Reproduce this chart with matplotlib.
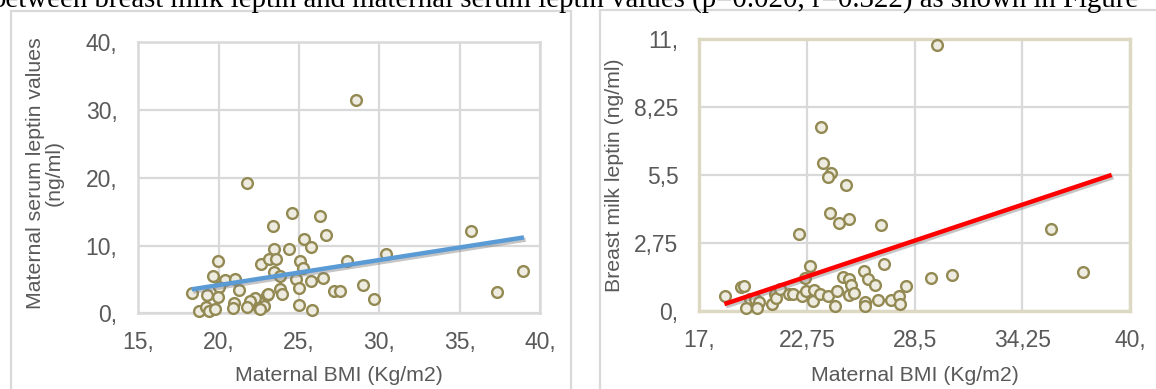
import numpy as np
import matplotlib
matplotlib.use("Agg")
import matplotlib.pyplot as plt
import matplotlib.patheffects as pe
from matplotlib.patches import Rectangle

# ---- data ----
serum_bmi = [28.53, 21.79, 24.59, 26.33, 23.36, 26.69, 35.69, 25.34, 23.43, 24.40,
             25.73, 30.42, 19.94, 22.62, 23.14, 23.59, 25.07, 27.99, 23.43, 25.23,
             23.82, 19.67, 20.40, 21.04, 20.02, 24.80, 25.77, 26.50, 21.27, 18.32,
             19.30, 19.94, 23.82, 23.95, 22.99, 23.09, 24.98, 27.18, 27.56, 28.99,
             29.65, 37.35, 22.26, 21.95, 20.96, 20.87, 21.75, 22.49, 22.85, 22.57,
             18.80, 19.19, 19.42, 19.79, 24.98, 25.81, 38.96]
serum_leptin = [31.5, 19.3, 14.85, 14.4, 12.9, 11.5, 12.1, 10.9, 9.45, 9.55,
                9.8, 8.75, 7.67, 7.28, 7.97, 8.07, 7.67, 7.67, 6.15, 6.64,
                5.5, 5.46, 4.92, 5.07, 3.85, 5.1, 4.77, 5.16, 3.39, 2.95,
                2.7, 2.41, 3.6, 2.85, 2.7, 2.8, 3.68, 3.3, 3.3, 4.25,
                2.12, 3.2, 2.2, 1.75, 1.45, 0.8, 0.95, 0.82, 1.1, 0.65,
                0.34, 0.9, 0.39, 0.59, 1.18, 0.42, 6.3]

milk_bmi = [29.68, 23.50, 23.62, 24.03, 23.87, 24.83, 24.00, 24.46, 25.01, 26.70,
            22.31, 35.76, 37.47, 22.89, 26.85, 22.62, 24.69, 25.01, 25.11, 25.78,
            26.01, 26.40, 28.04, 29.37, 30.47, 18.38, 19.22, 19.38, 19.71, 19.99,
            20.19, 19.47, 20.09, 20.89, 21.03, 21.10, 21.31, 21.78, 21.98, 22.50,
            22.68, 23.06, 23.15, 23.44, 23.87, 24.35, 24.25, 24.98, 25.27, 25.84,
            25.85, 26.56, 27.23, 27.64, 27.73]
milk_leptin = [10.77, 7.44, 5.99, 5.58, 5.41, 5.12, 3.98, 3.55, 3.71, 3.50,
               3.12, 3.31, 1.58, 1.82, 1.92, 1.33, 1.39, 1.30, 1.05, 1.62,
               1.30, 1.05, 1.03, 1.32, 1.46, 0.59, 0.98, 1.01, 0.50, 0.48,
               0.37, 0.12, 0.13, 0.29, 0.70, 0.52, 0.89, 0.68, 0.67, 0.61,
               0.82, 0.40, 0.87, 0.70, 0.62, 0.82, 0.20, 0.66, 0.72, 0.38,
               0.20, 0.46, 0.46, 0.61, 0.30]

# linear trend lines as drawn in the source (end values)
serum_trend_bmi = [18.32, 39.0]
serum_trend = [3.54, 11.2]
milk_trend_bmi = [18.34, 39.02]
milk_trend = [0.28, 5.51]

left_xticks = [15, 20, 25, 30, 35, 40]
left_xlabels = ["15,", "20,", "25,", "30,", "35,", "40,"]
left_yticks = [0, 10, 20, 30, 40]
left_ylabels = ["0,", "10,", "20,", "30,", "40,"]
right_xticks = [17, 22.75, 28.5, 34.25, 40]
right_xlabels = ["17,", "22,75", "28,5", "34,25", "40,"]
right_yticks = [0, 2.75, 5.5, 8.25, 11]
right_ylabels = ["0,", "2,75", "5,5", "8,25", "11,"]

TXT = "#595959"; GRID = "#d9d9d9"; BEIGE = "#dcd8c2"
MK_E = "#938953"; MK_F = "#eeece1"
W, H = 1156, 389

plt.rcParams["font.family"] = ["Liberation Sans", "DejaVu Sans"]
fig = plt.figure(figsize=(W / 100, H / 100), dpi=100)
fig.patch.set_facecolor("white")

# cut-off sentence from the page above the charts
fig.text(-9 / W, 1 - 7 / H,
         "between breast milk leptin and maternal serum leptin values (p=0.020, r=0.322) as shown in Figure",
         family="Liberation Serif", fontsize=20.8, color="black", va="baseline", ha="left")

# panel frames
fig.add_artist(Rectangle((11 / W, -0.05), 560 / W, 1.05 - 11 / H, transform=fig.transFigure,
                         fill=False, ec=GRID, lw=1.6))
fig.add_artist(Rectangle((600 / W, -0.05), 0.6, 1.05 - 10 / H, transform=fig.transFigure,
                         fill=False, ec=GRID, lw=1.6))

shadow = [pe.SimpleLineShadow(offset=(1.2, -1.6), shadow_color="#7f7f7f", alpha=0.45), pe.Normal()]


def panel(rect, bmi, lep, tx, ty, xlim, ylim, xt, xl, yt, yl, spine_c, line_c, ylabel, ylab_xy, xlab_y):
    ax = fig.add_axes(rect)
    ax.set_xlim(*xlim); ax.set_ylim(*ylim)
    ax.set_xticks(xt); ax.set_xticklabels(xl)
    ax.set_yticks(yt); ax.set_yticklabels(yl)
    ax.tick_params(length=0, labelsize=16.5, labelcolor=TXT)
    ax.tick_params(axis="x", pad=13)
    ax.tick_params(axis="y", pad=15)
    ax.grid(True, color=GRID, lw=1.6)
    ax.set_axisbelow(True)
    for s in ax.spines.values():
        s.set_color(spine_c); s.set_linewidth(1.8 if spine_c == GRID else 2.4)
    ax.scatter(bmi, lep, s=60, facecolor=MK_F, edgecolor=MK_E, linewidths=1.7, zorder=3, clip_on=False)
    ax.plot(tx, ty, color=line_c, lw=3.2, zorder=4, solid_capstyle="butt", path_effects=shadow)
    ax.set_xlabel("Maternal BMI (Kg/m2)", fontsize=15.3, color=TXT, va="center")
    ax.xaxis.set_label_coords(0.5, xlab_y)
    ax.set_ylabel(ylabel, fontsize=15.3, color=TXT, va="center", ha="center", linespacing=1.0)
    ax.yaxis.set_label_coords(*ylab_xy)
    return ax


panel([138.3 / W, 1 - 313.3 / H, 401.7 / W, 271 / H], serum_bmi, serum_leptin,
      serum_trend_bmi, serum_trend,
      (15, 40), (0, 40), left_xticks, left_xlabels, left_yticks, left_ylabels,
      GRID, "#5b9bd5", "Maternal serum leptin values\n(ng/ml)", (-0.232, 0.518), -0.231)
panel([699.3 / W, 1 - 311 / H, 430.7 / W, 271.7 / H], milk_bmi, milk_leptin,
      milk_trend_bmi, milk_trend,
      (17, 40), (0, 11), right_xticks, right_xlabels, right_yticks, right_ylabels,
      BEIGE, "#ff0000", "Breast milk leptin (ng/ml)", (-0.196, 0.50), -0.239)

fig.savefig("out.png", dpi=100, facecolor="white")
